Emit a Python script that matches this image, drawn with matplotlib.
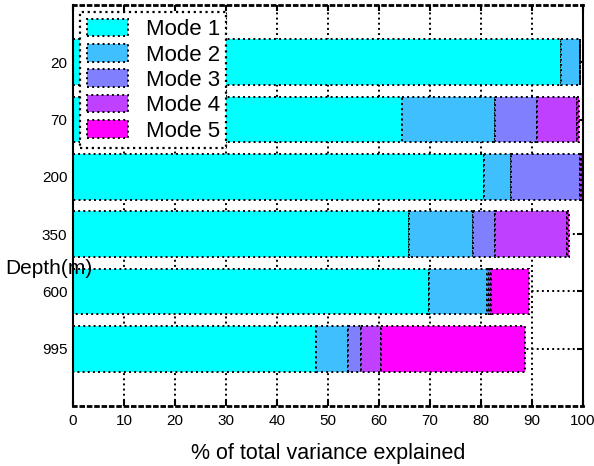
import matplotlib.pyplot as plt
import numpy as np

plt.rcParams["font.family"] = ["Liberation Sans", "DejaVu Sans"]

depths = ["20", "70", "200", "350", "600", "995"]
modes = ["Mode 1", "Mode 2", "Mode 3", "Mode 4", "Mode 5"]
# % variance explained by each mode, per depth
mode1 = [95.6, 64.6, 80.5, 65.9, 69.8, 47.7]
mode2 = [3.9, 18.1, 5.4, 12.5, 11.3, 6.3]
mode3 = [0.0, 8.2, 13.6, 4.3, 0.5, 2.5]
mode4 = [0.0, 7.9, 0.2, 14.1, 0.4, 3.8]
mode5 = [0.0, 0.4, 0.1, 0.5, 7.5, 28.4]
xticks = [0, 10, 20, 30, 40, 50, 60, 70, 80, 90, 100]

# matlab "cool" colormap, 5 levels
colors = ["#00ffff", "#40bfff", "#8080ff", "#bf40ff", "#ff00ff"]

fig = plt.figure(figsize=(5.94, 4.66), dpi=100)
ax = fig.add_axes([73 / 594, 1 - 406 / 466, 510 / 594, 401 / 466])

y = np.arange(1, len(depths) + 1)
left = np.zeros(len(depths))
for name, vals, col in zip(modes, [mode1, mode2, mode3, mode4, mode5], colors):
    vals = np.array(vals)
    ax.barh(y, vals, left=left, height=0.8, color=col, edgecolor="black",
            linewidth=1.4, linestyle=":", label=name, zorder=2)
    left += vals

ax.set_xlim(0, 100)
ax.set_ylim(7, 0)
ax.set_xticks(xticks)
ax.set_yticks(y)
ax.set_yticklabels(depths)
ax.tick_params(axis="both", direction="in", length=4, width=1.5,
               top=True, right=True, labelsize=11, pad=6)
ax.tick_params(axis="y", pad=4)

ax.set_axisbelow(True)
ax.grid(True, color="black", linestyle=":", linewidth=1.4)

for side in ["left", "right"]:
    ax.spines[side].set_linewidth(1.5)
for side in ["top", "bottom"]:
    ax.spines[side].set_linewidth(2)
    ax.spines[side].set_linestyle(":")

fig.text(5 / 594, 1 - 268 / 466, "Depth(m)", fontsize=15, ha="left", va="center")
fig.text((73 + 255) / 594, 1 - 459 / 466, "% of total variance explained",
         fontsize=15.5, ha="center", va="baseline")

leg = ax.legend(loc="upper left", bbox_to_anchor=(80 / 594, 1 - 12 / 466),
                bbox_transform=fig.transFigure, borderaxespad=0, fontsize=16,
                fancybox=False, framealpha=1, handlelength=1.85, handleheight=0.85,
                labelspacing=0.17, handletextpad=0.8, borderpad=0.3)
frame = leg.get_frame()
frame.set_edgecolor("black")
frame.set_linestyle(":")
frame.set_linewidth(1.6)

fig.savefig("out.png", dpi=100)
